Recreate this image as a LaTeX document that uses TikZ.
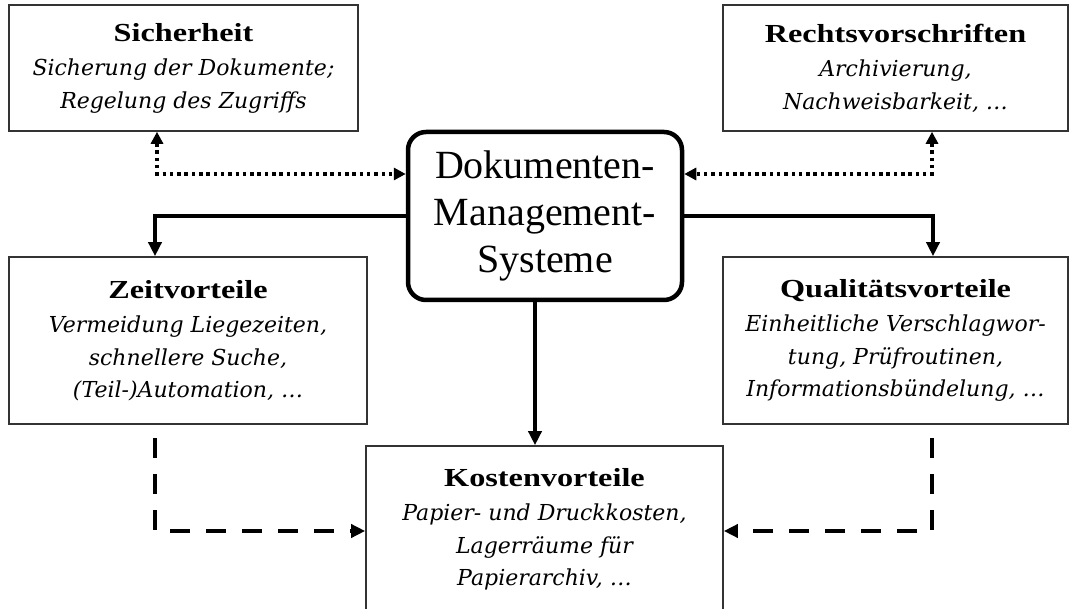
\documentclass[tikz,border=0pt]{standalone}
\usepackage{fontspec}
\setmainfont{Liberation Serif}
\newfontfamily\titlefont[FakeStretch=1.24]{Liberation Serif}
\newfontfamily\descfont{DejaVu Serif}
\usetikzlibrary{arrows.meta}
\tikzset{
  infobox/.style={draw=black!80, line width=1.6pt, fill=white, align=center,
    inner sep=0pt, font=\descfont\itshape\fontsize{22}{32.5}\selectfont},
  dmsbox/.style={draw=black, line width=4.5pt, rounded corners=18pt, align=center,
    inner sep=0pt, font=\fontsize{40}{47}\selectfont},
  dotconn/.style={line width=3.4pt, dash pattern=on 3.5pt off 3.8pt,
    {Triangle[length=12pt,width=12pt]}-{Triangle[length=12pt,width=12pt]}},
  solidconn/.style={line width=3.6pt, -{Triangle[length=14pt,width=13pt]}},
  dashconn/.style={line width=4pt, dash pattern=on 20pt off 16pt,
    -{Triangle[length=14pt,width=13pt]}},
}
\newcommand{\ttl}[1]{{\titlefont\upshape\bfseries\fontsize{26}{34}\selectfont #1}\\[2pt]}
\begin{document}
\begin{tikzpicture}[x=1pt,y=-1pt]
\useasboundingbox (0,0) rectangle (1073,609);
\fill[white] (0,0) rectangle (1073,609);
\clip (0,0) rectangle (1073,609);

\node[infobox, minimum width=349pt, minimum height=126pt] (sich) at (183.5,68)
  {\ttl{Sicherheit}Sicherung der Dokumente;\\Regelung des Zugriffs};
\node[infobox, minimum width=345pt, minimum height=126pt] (recht) at (895.5,68)
  {\ttl{Rechtsvorschriften}Archivierung,\\Nachweisbarkeit, \dots};
\node[infobox, minimum width=358pt, minimum height=167pt] (zeit) at (188,340.5)
  {\ttl{Zeitvorteile}Vermeidung Liegezeiten,\\schnellere Suche,\\(Teil-)Automation, \dots};
\node[infobox, minimum width=345pt, minimum height=167pt] (qual) at (895.5,340.5)
  {\ttl{Qualitätsvorteile}Einheitliche Verschlagwor-\\tung, Prüfroutinen,\\Informationsbündelung, \dots};
\node[infobox, minimum width=357pt, minimum height=167pt] (kost) at (544.5,529.5)
  {\ttl{Kostenvorteile}Papier- und Druckkosten,\\Lagerräume für\\Papierarchiv, \dots};
\node[dmsbox, minimum width=274pt, minimum height=168pt] (dms) at (545,216)
  {Dokumenten-\\Management-\\Systeme};

\coordinate (c1) at (157,174);
\coordinate (c2) at (932,174);
\coordinate (c3) at (155,216);
\coordinate (c4) at (933,216);
\coordinate (c5) at (155,531);
\coordinate (c6) at (932,531);
\coordinate (c7) at (535,0);

\draw[dotconn] (sich.south -| c1) -- (c1) -- (c1 -| dms.west);
\draw[dotconn] (recht.south -| c2) -- (c2) -- (c2 -| dms.east);
\draw[solidconn] (dms.west |- c3) -- (c3) -- (c3 |- zeit.north);
\draw[solidconn] (dms.east |- c4) -- (c4) -- (c4 |- qual.north);
\draw[solidconn] (dms.south -| c7) -- (kost.north -| c7);
\draw[dashconn] ([yshift=-13pt]zeit.south -| c5) -- (c5) -- (c5 -| kost.west);
\draw[dashconn] ([yshift=-13pt]qual.south -| c6) -- (c6) -- (c6 -| kost.east);
\end{tikzpicture}
\end{document}
